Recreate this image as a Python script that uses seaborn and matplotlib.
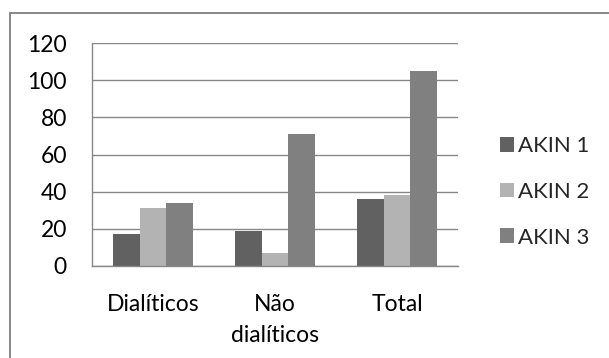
import matplotlib
matplotlib.use("Agg")
import matplotlib.pyplot as plt
import seaborn as sns
import pandas as pd
from matplotlib.patches import Patch
from matplotlib.lines import Line2D

categories = ["Dialíticos", "Não\ndialíticos", "Total"]
series = ["AKIN 1", "AKIN 2", "AKIN 3"]
akin1 = [17, 19, 36]
akin2 = [31, 7, 38]
akin3 = [34, 71, 105]
yticks = [0, 20, 40, 60, 80, 100, 120]
colors = ["#616161", "#b3b3b3", "#808080"]

rows = []
for s, vals in zip(series, [akin1, akin2, akin3]):
    for c, v in zip(categories, vals):
        rows.append({"cat": c, "series": s, "value": v})
df = pd.DataFrame(rows)

sns.set_style("white")
plt.rcParams["font.family"] = ["Lato", "DejaVu Sans"]

W, H = 609, 358
fig = plt.figure(figsize=(W / 100, H / 100), dpi=100)
ax = fig.add_axes([92 / W, 1 - 266 / H, (458 - 92) / W, (266 - 43) / H])

sns.barplot(data=df, x="cat", y="value", hue="series", palette=colors,
            width=0.66, saturation=1, ax=ax, legend=False, edgecolor="none")

ax.set_ylim(0, 120)
ax.set_yticks(yticks)
ax.set_yticklabels([str(t) for t in yticks])
ax.set_xlim(-0.5, 2.5)
ax.set_xlabel("")
ax.set_ylabel("")
ax.set_axisbelow(True)
ax.yaxis.grid(True, color="#878787", linewidth=1.0)
ax.xaxis.grid(False)
for side in ["top", "right"]:
    ax.spines[side].set_visible(False)
for side in ["left", "bottom"]:
    ax.spines[side].set_color("#878787")
    ax.spines[side].set_linewidth(1.0)
ax.tick_params(axis="y", length=0, pad=18, labelsize=16.5, labelcolor="black")
ax.tick_params(axis="x", length=0, pad=20, labelsize=16.5, labelcolor="black")
for lab in ax.get_xticklabels():
    lab.set_linespacing(1.62)

handles = [Patch(facecolor=c, edgecolor="none", label=s) for c, s in zip(colors, series)]
fig.legend(handles=handles, loc="center left", bbox_to_anchor=(491 / W, 1 - 192 / H),
           frameon=False, fontsize=16, handlelength=0.63, handleheight=0.63,
           handletextpad=0.2, labelspacing=1.15, borderaxespad=0)

fig.add_artist(Line2D([10 / W, 1], [1 - 13 / H, 1 - 13 / H], color="#878787", linewidth=1.4))
fig.add_artist(Line2D([10 / W, 10 / W], [0, 1 - 13 / H], color="#878787", linewidth=1.4))

fig.savefig("out.png", dpi=100)
